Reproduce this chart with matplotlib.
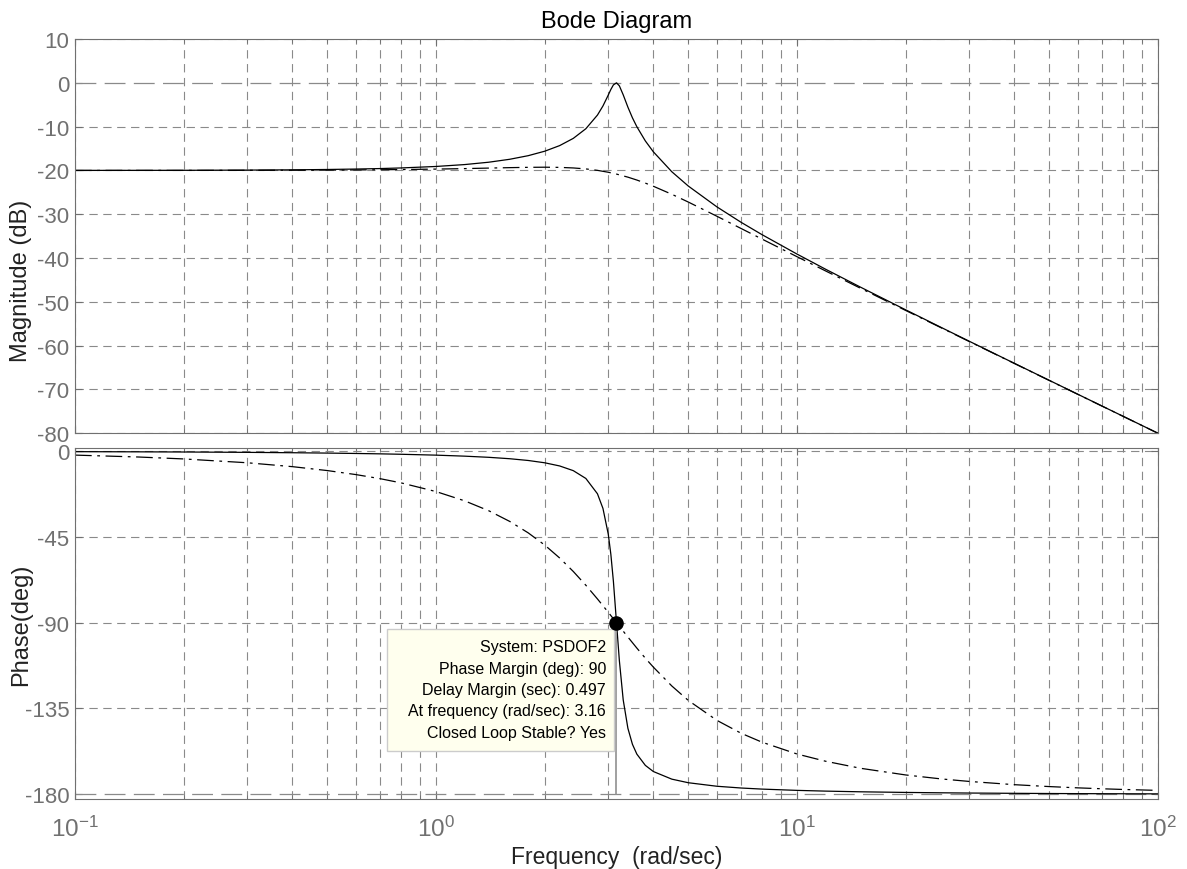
import matplotlib
matplotlib.use('Agg')
import matplotlib.pyplot as plt
from matplotlib.patches import Rectangle

plt.rcParams['font.family'] = ['Liberation Sans', 'DejaVu Sans']
plt.rcParams['mathtext.fontset'] = 'custom'
plt.rcParams['mathtext.rm'] = 'Liberation Sans'
plt.rcParams['lines.scale_dashes'] = False
plt.rcParams['axes.unicode_minus'] = False

# solid curve (lightly damped)
freq_a = [0.1, 0.15, 0.2, 0.3, 0.4, 0.5, 0.6, 0.7, 0.8, 1.0,
          1.2, 1.4, 1.6, 1.8, 2.0, 2.2, 2.4, 2.6, 2.8, 2.9,
          3.0, 3.05, 3.1, 3.162, 3.22, 3.3, 3.4, 3.5, 3.6, 3.8,
          4.0, 4.5, 5, 6, 7, 8, 10, 12, 15, 20,
          25, 30, 40, 50, 60, 70, 80, 100]
mag_a = [-19.99, -19.98, -19.97, -19.92, -19.86, -19.78, -19.68, -19.57, -19.43, -19.09,
         -18.66, -18.12, -17.45, -16.63, -15.61, -14.33, -12.68, -10.48, -7.36, -5.28,
         -2.79, -1.51, -0.47, 0.0, -0.69, -2.74, -5.55, -7.99, -10.02, -13.26,
         -15.75, -20.30, -23.57, -28.32, -31.84, -34.66, -39.09, -42.55, -46.65, -51.82,
         -55.78, -58.99, -64.03, -67.92, -71.10, -73.79, -76.11, -79.99]
phase_a = [-0.18, -0.27, -0.36, -0.55, -0.74, -0.93, -1.13, -1.33, -1.55, -2.01,
           -2.54, -3.15, -3.89, -4.81, -6.02, -7.68, -10.15, -14.24, -22.29, -29.98,
           -43.5, -54.1, -68.3, -90.0, -109.9, -130.5, -145.4, -153.8, -158.96, -164.86,
           -168.1, -172.1, -173.98, -175.83, -176.75, -177.32, -177.99, -178.38, -178.74, -179.07,
           -179.26, -179.39, -179.54, -179.64, -179.70, -179.74, -179.77, -179.82]

# dash-dot curve (well damped)
freq_b = [0.1, 0.15, 0.2, 0.3, 0.4, 0.5, 0.6, 0.7, 0.8, 1.0,
          1.2, 1.4, 1.6, 1.8, 2.0, 2.2, 2.4, 2.6, 2.8, 3.0,
          3.162, 3.4, 3.6, 3.8, 4.0, 4.5, 5, 6, 7, 8,
          10, 12, 15, 20, 25, 30, 40, 50, 60, 70,
          80, 100]
mag_b = [-20.00, -19.99, -19.99, -19.97, -19.95, -19.92, -19.88, -19.84, -19.79, -19.69,
         -19.58, -19.46, -19.36, -19.29, -19.26, -19.30, -19.43, -19.65, -19.98, -20.41,
         -20.83, -21.53, -22.19, -22.89, -23.61, -25.44, -27.22, -30.46, -33.25, -35.67,
         -39.69, -42.94, -46.90, -51.96, -55.86, -59.05, -64.06, -67.95, -71.12, -73.80,
         -76.12, -80.00]
phase_b = [-1.99, -2.99, -4.0, -6.01, -8.05, -10.11, -12.22, -14.36, -16.56, -21.13,
           -25.99, -31.2, -36.8, -42.8, -49.2, -56.0, -63.07, -70.3, -77.5, -84.5,
           -90.0, -97.5, -103.3, -108.6, -113.3, -123.2, -130.8, -141.25, -148.0, -152.7,
           -158.9, -162.7, -166.4, -169.9, -171.95, -173.3, -175.0, -176.0, -176.67, -177.15,
           -177.51, -178.0]

mag_ticks = [10, 0, -10, -20, -30, -40, -50, -60, -70, -80]
phase_ticks = [0, -45, -90, -135, -180]

pm_freq = 3.16
pm_phase = -90
tip_lines = ['System: PSDOF2',
             'Phase Margin (deg): 90',
             'Delay Margin (sec): 0.497',
             'At frequency (rad/sec): 3.16',
             'Closed Loop Stable? Yes']

gray = '#707070'
gridc = '#8a8a8a'
dashdot = (0, (12, 4, 2, 4))

fig = plt.figure(figsize=(11.87, 8.70), dpi=100)
ax1 = fig.add_axes([0.0632, 0.5008, 0.9124, 0.4532])
ax2 = fig.add_axes([0.0632, 0.0805, 0.9124, 0.4031], sharex=ax1)

ax1.plot(freq_a, mag_a, color='black', lw=0.9)
ax1.plot(freq_b, mag_b, color='black', lw=0.9, linestyle=dashdot)
ax2.plot(freq_a, phase_a, color='black', lw=0.9)
ax2.plot(freq_b, phase_b, color='black', lw=0.9, linestyle=dashdot)

for ax in (ax1, ax2):
    ax.set_xscale('log')
    ax.set_xlim(0.1, 100)
    ax.grid(True, which='both', axis='x', color=gridc, linestyle=(0, (6, 4)), lw=0.8)
    ax.grid(True, which='major', axis='y', color=gridc, linestyle=(0, (6, 4)), lw=0.8)
    ax.tick_params(which='both', direction='in', colors=gray, top=True, right=True)
    ax.tick_params(which='major', length=5, labelsize=16, pad=4)
    ax.tick_params(which='minor', length=3)
    for s in ax.spines.values():
        s.set_color(gray)
    ax.set_axisbelow(True)

ax1.set_ylim(-80, 10)
ax1.set_yticks(mag_ticks)
ax1.tick_params(axis='x', labelbottom=False)
ax2.set_ylim(-182.5, 1.6)
ax2.set_yticks(phase_ticks)
ax2.tick_params(axis='x', labelsize=17.5, pad=12)

# margin reference lines replace the grid line at 0 dB and -180 deg
ax1.get_ygridlines()[mag_ticks.index(0)].set_visible(False)
ax2.get_ygridlines()[phase_ticks.index(-180)].set_visible(False)
ax1.axhline(0, color=gridc, lw=0.9, linestyle=(0, (15, 6)), zorder=1)
ax2.axhline(-180, color=gridc, lw=0.9, linestyle=(0, (15, 6)), zorder=1)

ax1.set_title('Bode Diagram', fontsize=17, pad=9)
ax1.set_ylabel('Magnitude (dB)', fontsize=17, color='#222222')
ax2.set_ylabel('Phase(deg)', fontsize=17, color='#222222')
ax1.yaxis.set_label_coords(-0.0395, 0.389)
ax2.yaxis.set_label_coords(-0.0395, 0.5)
ax2.set_xlabel('Frequency  (rad/sec)', fontsize=16.5, color='#222222', labelpad=3)

# phase margin marker and data tip
ax2.plot([pm_freq, pm_freq], [pm_phase, -180], color='#909090', lw=1.2, zorder=3)
ax2.plot(pm_freq, pm_phase, 'o', color='black', ms=9.5, zorder=5)
ax2.add_patch(Rectangle((0.288, 0.137), 0.2096, 0.3478, transform=ax2.transAxes,
                        facecolor='#ffffee', edgecolor='#cccccc', lw=1, zorder=4))
for i, line in enumerate(tip_lines):
    ax2.text(0.4903, 0.4334 - i * 0.0607, line, transform=ax2.transAxes,
             ha='right', va='center', fontsize=11.5, color='black', zorder=6)

fig.savefig('out.png', dpi=100)
